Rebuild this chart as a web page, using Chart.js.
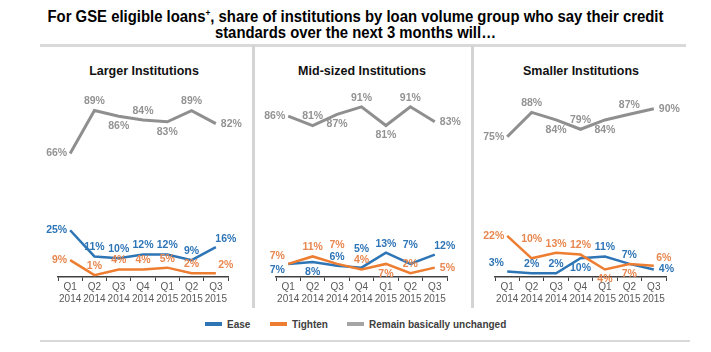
<!DOCTYPE html>
<html>
<head>
<meta charset="utf-8">
<script src="https://cdn.jsdelivr.net/npm/chart.js@4/dist/chart.umd.min.js"></script>
<style>
  body { margin: 0; width: 711px; height: 352px; background: #fff; position: relative; overflow: hidden; font-family: "Liberation Sans", Arial, sans-serif; }
  #title { position: absolute; left: 0; top: 9px; width: 711px; text-align: center; font-family: "Liberation Sans Narrow", "Arial Narrow", "Liberation Sans", sans-serif; font-weight: bold; font-size: 16px; line-height: 16px; color: #000; transform: scaleX(0.93); transform-origin: 355px 0; }
  .hline { position: absolute; height: 3px; background: #d9d9d9; }
  .vline { position: absolute; width: 3px; background: #d4d4d4; }
  .ptitle { position: absolute; top: 64px; width: 218px; text-align: center; font-weight: bold; font-size: 12.5px; color: #111; }
  canvas { position: absolute; }
  #legend { position: absolute; top: 318px; left: 0; width: 711px; font-weight: bold; font-size: 10px; color: #404040; }
  .lg { position: absolute; top: 0; height: 14px; line-height: 14px; }
  .lg span { display: inline-block; width: 17px; height: 4px; vertical-align: middle; margin-right: 5px; position: relative; top: -1px; }
</style>
</head>
<body>
<div id="title">For GSE eligible loans<sup style="font-size:9px;line-height:0">+</sup>, share of institutions by loan volume group who say their credit<br>standards over the next 3 months will…</div>
<div class="hline" style="left:40px;top:44px;width:646px"></div>
<div class="hline" style="left:40px;top:340px;width:650px;height:2px"></div>
<div class="vline" style="left:252px;top:45px;height:263px"></div>
<div class="vline" style="left:471px;top:45px;height:263px"></div>
<div class="ptitle" style="left:35px">Larger Institutions</div>
<div class="ptitle" style="left:253px">Mid-sized Institutions</div>
<div class="ptitle" style="left:472px">Smaller Institutions</div>
<canvas id="c0"></canvas>
<canvas id="c1"></canvas>
<canvas id="c2"></canvas>
<div id="legend">
  <div class="lg" style="left:205px"><span style="background:#2e75b6"></span>Ease</div>
  <div class="lg" style="left:270px"><span style="background:#ed7d31"></span>Tighten</div>
  <div class="lg" style="left:347px"><span style="background:#a5a5a5"></span>Remain basically unchanged</div>
</div>
<script>
var quarters = [['Q1','2014'],['Q2','2014'],['Q3','2014'],['Q4','2014'],['Q1','2015'],['Q2','2015'],['Q3','2015']];
var seriesNames = ['Ease', 'Tighten', 'Remain basically unchanged'];

var largerEase = [25, 11, 10, 12, 12, 9, 16];
var largerTighten = [9, 1, 4, 4, 5, 2, 2];
var largerUnchanged = [66, 89, 86, 84, 83, 89, 82];

var midEase = [7, 8, 6, 5, 13, 7, 12];
var midTighten = [7, 11, 7, 4, 7, 2, 5];
var midUnchanged = [86, 81, 87, 91, 81, 91, 83];

var smallEase = [3, 2, 2, 10, 11, 7, 4];
var smallTighten = [22, 10, 13, 12, 4, 7, 6];
var smallUnchanged = [75, 88, 84, 79, 84, 87, 90];

// where each value label sits around its point
var labelPos = [
  [['l','a','a','a','a','a','ar'], ['l','a','a','a','a','a','ar'], ['l','a','b','a','b','a','r']],
  [['bl','b','a','a2','a','a2','ar'], ['al','a','a2','a','b','a','r'], ['l','a','b','a','b','a','r']],
  [['al','a','a','b','a','a','r'], ['l','a2','a','a','b','b','ar'], ['l','a','b','a','b','a','r']]
];

var colors = ['#2e75b6', '#ed7d31', '#8f8f8f'];
var labelColors = ['#2e75b6', '#e8874f', '#939393'];
var widths = [2.5, 2.5, 3];

var panels = [
  { left: 58, width: 170, data: [largerEase, largerTighten, largerUnchanged] },
  { left: 276, width: 171, data: [midEase, midTighten, midUnchanged] },
  { left: 495, width: 171, data: [smallEase, smallTighten, smallUnchanged] }
];

var valueLabels = {
  id: 'valueLabels',
  afterDatasetsDraw: function(chart, args, opts) {
    var ctx = chart.ctx;
    ctx.save();
    ctx.font = 'bold 10.5px "Liberation Sans", Arial, sans-serif';
    ctx.textBaseline = 'middle';
    chart.data.datasets.forEach(function(ds, i) {
      var meta = chart.getDatasetMeta(i);
      ctx.fillStyle = labelColors[i];
      meta.data.forEach(function(pt, j) {
        var p = opts.pos[i][j];
        var x = pt.x, y = pt.y;
        ctx.textAlign = 'center';
        if (p == 'a') y -= 9;
        else if (p == 'a2') y -= 19;
        else if (p == 'b') y += 10;
        else if (p == 'l') { ctx.textAlign = 'right'; x -= 3; }
        else if (p == 'r') { ctx.textAlign = 'left'; x += 5; }
        else if (p == 'ar') { x += 10; y -= 8; }
        else if (p == 'al') { x -= 11; y -= 8; }
        else if (p == 'bl') { x -= 11; y += 6; }
        ctx.fillText(ds.data[j] + '%', x, y);
      });
    });
    ctx.restore();
  }
};

panels.forEach(function(p, k) {
  var pad = 32;
  var cv = document.getElementById('c' + k);
  cv.style.left = (p.left - pad) + 'px';
  cv.style.top = '80px';
  cv.width = p.width + pad * 2;
  cv.height = 233;
  cv.style.width = cv.width + 'px';
  cv.style.height = cv.height + 'px';

  new Chart(cv.getContext('2d'), {
    type: 'line',
    data: {
      labels: quarters,
      datasets: p.data.map(function(d, i) {
        return {
          label: seriesNames[i],
          data: d,
          borderColor: colors[i],
          backgroundColor: colors[i],
          borderWidth: widths[i],
          pointRadius: 0,
          tension: 0,
          fill: false,
          order: i == 2 ? 3 : 2 - i
        };
      })
    },
    options: {
      responsive: false,
      animation: false,
      layout: { padding: { left: pad, right: pad, top: 10, bottom: 0 } },
      plugins: {
        legend: { display: false },
        tooltip: { enabled: false },
        valueLabels: { pos: labelPos[k] }
      },
      scales: {
        x: {
          offset: true,
          grid: { display: true, drawOnChartArea: false, drawTicks: true, tickLength: 4, color: '#404040', lineWidth: 1, offset: true },
          border: { display: true, color: '#404040', width: 1.5 },
          ticks: { color: '#595959', padding: 0, maxRotation: 0, autoSkip: false, font: { size: 10, lineHeight: 1.2, family: '"Liberation Sans", Arial, sans-serif' } },
          afterFit: function(s) { s.height = 36; }
        },
        y: { display: false, min: 0, max: 100 }
      }
    },
    plugins: [valueLabels]
  });
});
</script>
</body>
</html>
